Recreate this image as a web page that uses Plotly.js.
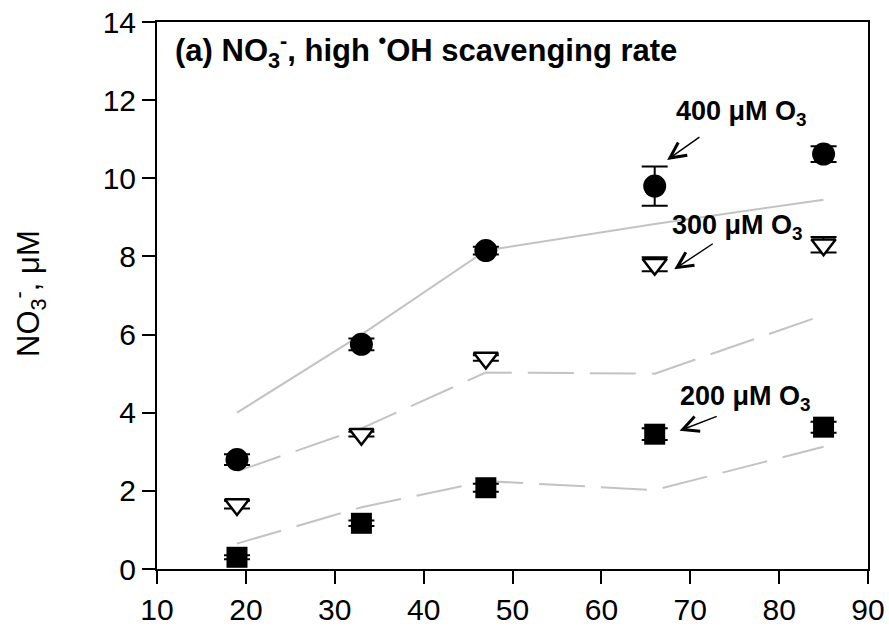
<!DOCTYPE html>
<html>
<head>
<meta charset="utf-8">
<script src="https://cdn.plot.ly/plotly-3.0.1.min.js"></script>
<style>html,body{margin:0;padding:0;background:#fff;}#chart{width:889px;height:637px;}</style>
</head>
<body>
<div id="chart"></div>
<script>
// Reaction time (x) and NO3- concentrations (uM)
const xVals = [19, 33, 47, 66, 85];
const o3_400 = [2.8, 5.75, 8.15, 9.8, 10.62];
const err_400 = [0.14, 0.15, 0.1, 0.5, 0.2];
const o3_300 = [1.65, 3.45, 5.4, 7.8, 8.3];
const err_300 = [0.1, 0.06, 0.07, 0.18, 0.2];
const o3_200 = [0.3, 1.17, 2.08, 3.45, 3.63];
const err_200 = [0.05, 0.07, 0.1, 0.15, 0.14];
const model_400 = [4.0, 6.0, 8.15, 8.83, 9.45];
const model_300 = [2.5, 3.6, 5.03, 5.0, 6.5];
const model_200 = [0.65, 1.58, 2.25, 2.02, 3.13];
const xTicks = [10, 20, 30, 40, 50, 60, 70, 80, 90];
const yTicks = [0, 2, 4, 6, 8, 10, 12, 14];

const FONT = 'Liberation Sans, Arial, sans-serif';
const grey = '#c3c3c3';
const ML = 157, MR = 21, MT = 22, MB = 68, W = 889, H = 637;
const PW = W - ML - MR, PH = H - MT - MB;
const px2paperX = px => (px - ML) / PW;
const px2paperY = py => (H - MB - py) / PH;

const traces = [
  {x: xVals, y: model_400, mode: 'lines', line: {color: grey, width: 2}, hoverinfo: 'skip'},
  {x: xVals, y: model_300, mode: 'lines', line: {color: grey, width: 2, dash: '46px,16px'}, hoverinfo: 'skip'},
  {x: xVals, y: model_200, mode: 'lines', line: {color: grey, width: 2, dash: '46px,16px'}, hoverinfo: 'skip'},
  {x: xVals, y: o3_400, mode: 'markers', marker: {symbol: 'circle', size: 23, color: '#000'},
   error_y: {type: 'data', array: err_400, visible: true, color: '#000', thickness: 2, width: 13}},
  {x: xVals, y: o3_300, mode: 'markers', marker: {symbol: 'triangle-down', size: 21, color: '#fff', line: {color: '#000', width: 2.5}},
   error_y: {type: 'data', array: err_300, visible: true, color: '#000', thickness: 2, width: 13}},
  {x: xVals, y: o3_200, mode: 'markers', marker: {symbol: 'square', size: 21, color: '#000'},
   error_y: {type: 'data', array: err_200, visible: true, color: '#000', thickness: 2, width: 13}}
];

const annFont = {family: FONT, size: 27, color: '#000', weight: 'bold'};

const arrows = [
  {x: 67.4, y: 10.47, ax: 71.2, ay: 11.08},
  {x: 68.2, y: 7.67, ax: 72.7, ay: 8.35},
  {x: 68.8, y: 3.54, ax: 73.15, ay: 3.92}
].map(a => ({x: a.x, y: a.y, ax: a.ax, ay: a.ay, xref: 'x', yref: 'y', axref: 'x', ayref: 'y',
  text: '', showarrow: true, arrowhead: 5, arrowsize: 2.2, arrowwidth: 1.4, arrowcolor: '#000', standoff: 0, startstandoff: 0}));

const textAnns = [
  {x: 173, y: 50, text: '(a) NO<sub>3</sub><sup>-</sup>, high <sup>•</sup>OH scavenging rate',
   xanchor: 'left', font: {family: FONT, size: 31, color: '#000', weight: 'bold'}},
  {x: 674, y: 113, text: '400 μM O<sub>3</sub>', xanchor: 'left', font: annFont},
  {x: 670, y: 227, text: '300 μM O<sub>3</sub>', xanchor: 'left', font: annFont},
  {x: 678, y: 398, text: '200 μM O<sub>3</sub>', xanchor: 'left', font: annFont},
  {x: 28, y: 294, text: 'NO<sub>3</sub><sup>-</sup>, μM', xanchor: 'center', textangle: -90,
   font: {family: FONT, size: 31, color: '#000'}}
].map(a => Object.assign({}, a, {xref: 'paper', yref: 'paper', x: px2paperX(a.x), y: px2paperY(a.y),
  showarrow: false, yanchor: 'middle'}));

const axisStyle = {
  showgrid: false, zeroline: false, showline: true, linecolor: '#000', linewidth: 2, mirror: true,
  ticks: 'outside', ticklen: 13, tickwidth: 2, tickcolor: '#000',
  tickfont: {family: FONT, size: 30, color: '#000'}
};

const layout = {
  width: W, height: H,
  margin: {l: ML, r: MR, t: MT, b: MB},
  paper_bgcolor: '#fff', plot_bgcolor: '#fff',
  showlegend: false,
  font: {family: FONT, color: '#000'},
  xaxis: Object.assign({range: [10, 90], tickvals: xTicks, ticktext: xTicks.map(String)}, axisStyle),
  yaxis: Object.assign({range: [0, 14], tickvals: yTicks, ticktext: yTicks.map(String)}, axisStyle),
  annotations: textAnns.concat(arrows)
};

Plotly.newPlot('chart', traces, layout, {displayModeBar: false, staticPlot: true});
</script>
</body>
</html>
